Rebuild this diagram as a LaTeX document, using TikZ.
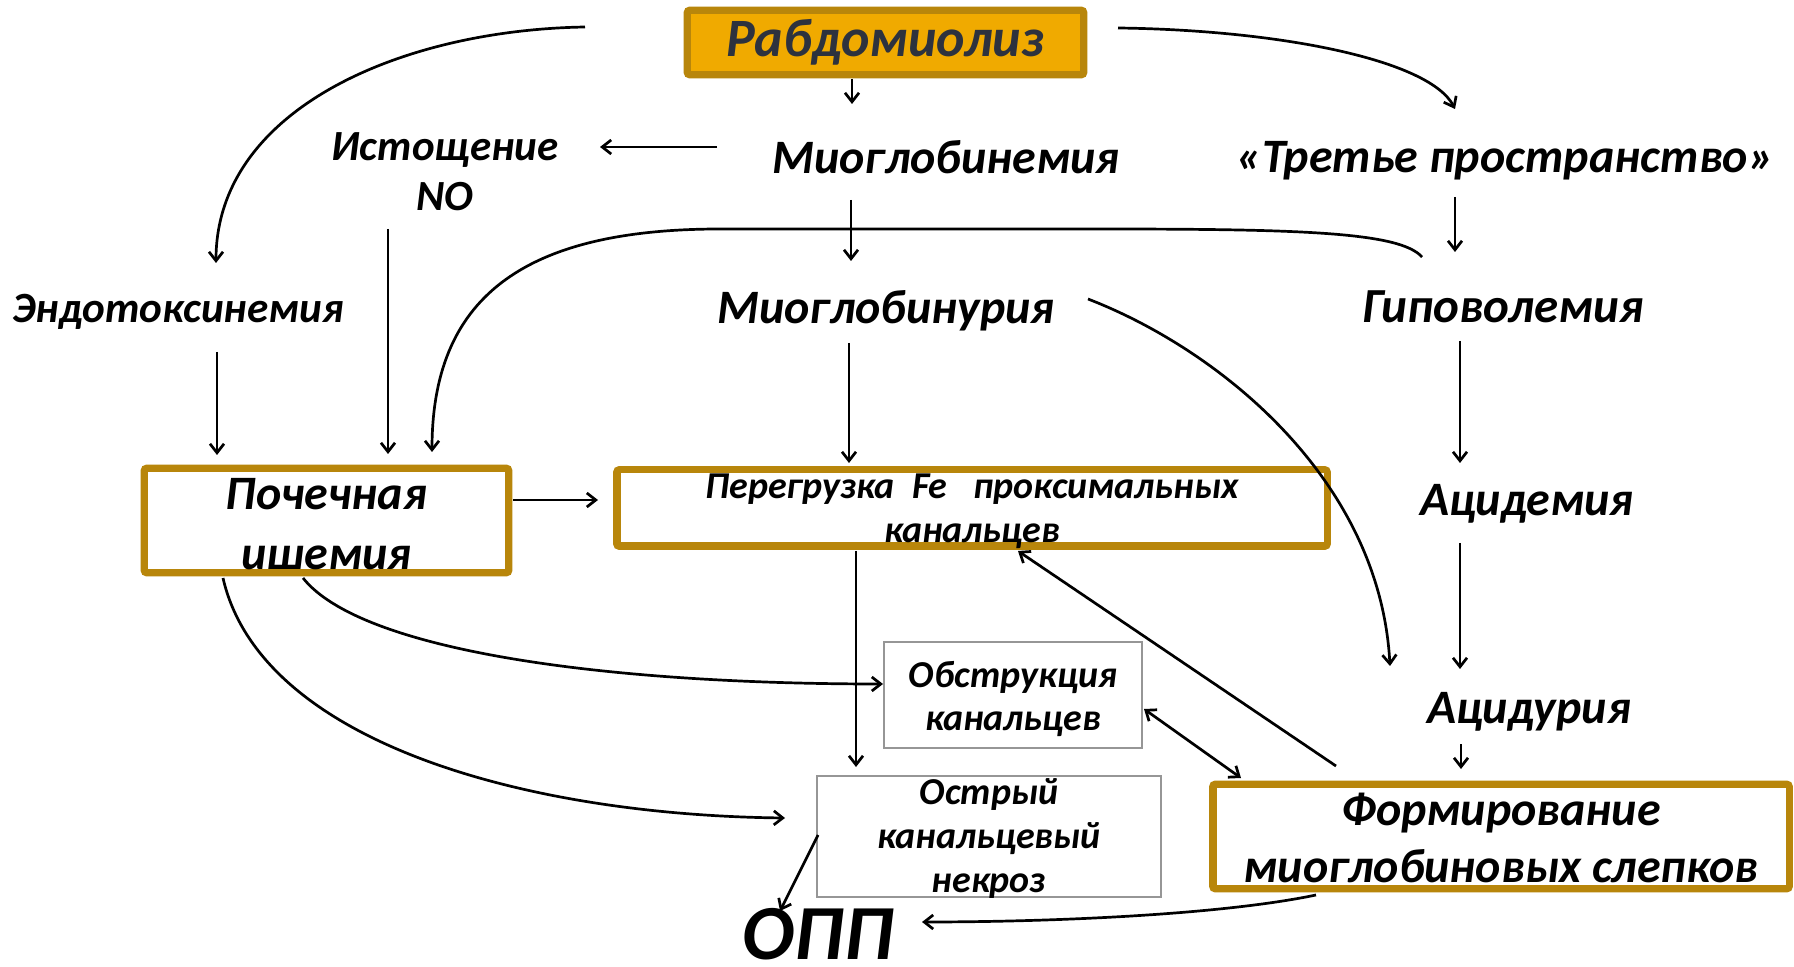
\documentclass[tikz,border=0pt]{standalone}
\usepackage{fontspec}
\setmainfont{Carlito}
\usetikzlibrary{arrows.meta}
\definecolor{gold}{RGB}{184,134,11}
\definecolor{amber}{RGB}{240,170,0}
\definecolor{ink}{RGB}{45,50,62}
\definecolor{frame}{RGB}{150,150,150}
\newcommand\fs[2]{\fontsize{#1}{#2}\selectfont}
\newcommand\innerframe[1]{\draw[gold, line width=0.8pt] ([shift={(6.5,6.5)}]#1.north west) rectangle ([shift={(-6.5,-6.5)}]#1.south east);}
\begin{document}
\begin{tikzpicture}[x=0.5pt,y=-0.5pt,
  txt/.style={font=\bfseries\itshape\fs{24}{30}, inner sep=0pt, align=center},
  goldbox/.style={draw=gold, line width=2.8pt, rounded corners=1.5pt, inner sep=0pt},
  greybox/.style={draw=frame, line width=0.6pt, inner sep=0pt},
  arr/.style={line width=1.35pt, -{Straight Barb[length=4.5pt,width=7pt]}},
  darr/.style={line width=1.35pt, {Straight Barb[length=4.5pt,width=7pt]}-{Straight Barb[length=4.5pt,width=7pt]}},
]
\useasboundingbox (0,0) rectangle (1794,967);
\fill[white] (0,0) rectangle (1794,967);

% boxes
\node[goldbox, fill=amber, minimum width=199pt, minimum height=33pt, text=ink, font=\bfseries\itshape\fs{27}{32}] (rab) at (885.5,42.5) {Рабдомиолиз};
\innerframe{rab}
\node[goldbox, minimum width=183pt, minimum height=53pt] (poch) at (326.5,520.5) {};
\innerframe{poch}
\node[goldbox, minimum width=356pt, minimum height=39pt] (pereg) at (972,508) {};
\innerframe{pereg}
\node[greybox, minimum width=129pt, minimum height=53pt] (obstr) at (1013,695) {};
\node[greybox, minimum width=172pt, minimum height=60.5pt] (ostr) at (989,836.5) {};
\node[goldbox, minimum width=289pt, minimum height=53pt] (form) at (1501,836.5) {};
\innerframe{form}

% texts
\node[txt, font=\bfseries\itshape\fs{24}{30}] (pochT) at (326.5,524.5) {Почечная\\ишемия};
\node[txt, font=\bfseries\itshape\fs{19}{22}] (peregT) at (972,511) {Перегрузка\ \ Fe\ \ \ проксимальных\\канальцев};
\node[txt, font=\bfseries\itshape\fs{19}{21.5}] (obstrT) at (1013,699) {Обструкция\\канальцев};
\node[txt, font=\bfseries\itshape\fs{19}{22}] (ostrT) at (989,838.5) {Острый\\канальцевый\\некроз};
\node[txt, font=\bfseries\itshape\fs{24}{28.5}] (formT) at (1501,837.5) {Формирование\\миоглобиновых слепков};
\node[txt] (mgbem) at (946,157) {Миоглобинемия};
\node[txt, font=\bfseries\itshape\fs{21.5}{25}] (ist) at (445,172) {Истощение\\NO};
\node[txt] (tret) at (1505,161) {«Третье пространство»};
\node[txt, font=\bfseries\itshape\fs{21.6}{28}] (endo) at (178,312) {Эндотоксинемия};
\node[txt] (mgbur) at (886,311) {Миоглобинурия};
\node[txt, font=\bfseries\itshape\fs{24.5}{30}] (gipo) at (1503,307) {Гиповолемия};
\node[txt] (acidem) at (1527,504) {Ацидемия};
\node[txt] (acidur) at (1529,712) {Ацидурия};
\node[txt, font=\bfseries\itshape\fs{39}{39}] (opp) at (818,934) {ОПП};

% connector ends
\coordinate (rabS) at (852,79);   \coordinate (mgbemN) at (852,104);
\coordinate (mgbemW) at (717,147); \coordinate (istE) at (600,147);
\coordinate (mgbemS) at (851,200); \coordinate (mgburN) at (851,261);
\coordinate (tretS) at (1455,197); \coordinate (gipoN) at (1455,252);
\coordinate (endoS) at (217,352); \coordinate (pochNa) at (217,455);
\coordinate (istS) at (388,229);  \coordinate (pochNb) at (388,454);
\coordinate (mgburS) at (849,343); \coordinate (peregN) at (849,463);
\coordinate (pochE) at (513,500); \coordinate (peregW) at (598,500);
\coordinate (gipoS) at (1460,341); \coordinate (acidemN) at (1460,463);
\coordinate (acidemS) at (1460,543); \coordinate (acidurN) at (1460,669);
\coordinate (acidurS) at (1461,744); \coordinate (formN) at (1461,769);
\coordinate (peregS) at (856,551); \coordinate (ostrN) at (856,767);
\coordinate (obstrE) at (1144,709); \coordinate (formNW) at (1241,778);
\coordinate (formE) at (1336,766); \coordinate (peregSE) at (1018,551);
\coordinate (ostrW) at (818,835); \coordinate (oppN) at (780,911);
\coordinate (rabW) at (585,27); \coordinate (endoN) at (216,263);
\coordinate (rabE) at (1118,28); \coordinate (tretN) at (1455,109);
\coordinate (gipoNW) at (1422,257); \coordinate (pochNc) at (432,452);
\coordinate (mgburE) at (1088,299); \coordinate (formNW2) at (1390,666);
\coordinate (pochSa) at (303,578); \coordinate (obstrW) at (883,684);
\coordinate (pochSb) at (223,578); \coordinate (ostrW2) at (785,818);
\coordinate (formSW) at (1316,895); \coordinate (oppE) at (922,922);

% straight connectors
\draw[arr] (rabS) -- (mgbemN);
\draw[arr] (mgbemW) -- (istE);
\draw[arr] (mgbemS) -- (mgburN);
\draw[arr] (tretS) -- (gipoN);
\draw[arr] (endoS) -- (pochNa);
\draw[arr] (istS) -- (pochNb);
\draw[arr] (mgburS) -- (peregN);
\draw[arr] (pochE) -- (peregW);
\draw[arr] (gipoS) -- (acidemN);
\draw[arr] (acidemS) -- (acidurN);
\draw[arr] (acidurS) -- (formN);
\draw[arr] (peregS) -- (ostrN);
\draw[darr] (obstrE) -- (formNW);
\draw[arr] (formE) -- (peregSE);
\draw[arr] (ostrW) -- (oppN);

% curved connectors
\draw[arr] (rabW) .. controls (400,30) and (216,110) .. (endoN);
\draw[arr] (rabE) .. controls (1280,30) and (1430,60) .. (tretN);
\draw[arr] (gipoNW) .. controls (1400,232) and (1300,229) .. (1100,229) -- (720,229) .. controls (520,229) and (432,300) .. (pochNc);
\draw[arr] (mgburE) .. controls (1220,350) and (1380,480) .. (formNW2);
\draw[arr] (pochSa) .. controls (360,650) and (600,684) .. (obstrW);
\draw[arr] (pochSb) .. controls (260,740) and (520,815) .. (ostrW2);
\draw[arr] (formSW) .. controls (1220,915) and (1050,922) .. (oppE);
\end{tikzpicture}
\end{document}
